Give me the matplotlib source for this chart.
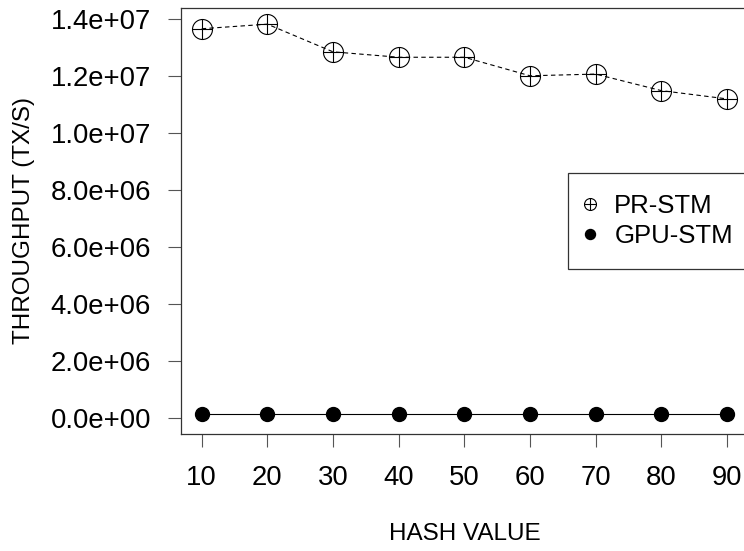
import numpy as np
import matplotlib
matplotlib.use("Agg")
import matplotlib.pyplot as plt
from matplotlib.path import Path
from matplotlib.lines import Line2D

plt.rcParams['font.family'] = ['Liberation Sans', 'DejaVu Sans']

# data
hash_values = [10, 20, 30, 40, 50, 60, 70, 80, 90]
pr_stm = [1.366e7, 1.382e7, 1.285e7, 1.266e7, 1.266e7, 1.201e7, 1.207e7, 1.149e7, 1.120e7]
gpu_stm = [1.4e5, 1.4e5, 1.4e5, 1.4e5, 1.4e5, 1.4e5, 1.4e5, 1.4e5, 1.4e5]
y_ticks = [0, 2e6, 4e6, 6e6, 8e6, 1.0e7, 1.2e7, 1.4e7]
y_tick_labels = ['0.0e+00', '2.0e+06', '4.0e+06', '6.0e+06', '8.0e+06',
                 '1.0e+07', '1.2e+07', '1.4e+07']

# circle with a cross inside (like R's pch=10)
circ = Path.unit_circle()
cross = Path([(-1, 0), (1, 0), (0, -1), (0, 1)],
             [Path.MOVETO, Path.LINETO, Path.MOVETO, Path.LINETO])
oplus = Path.make_compound_path(circ, cross)

fig = plt.figure(figsize=(7.44, 5.51), dpi=100)
ax = fig.add_axes([180.7 / 744, 1 - 434 / 551, 567.3 / 744, 426 / 551])

ax.plot(hash_values, pr_stm, color='black', lw=0.8, ls=(0, (4, 3)),
        marker=oplus, markersize=14.4, markerfacecolor='none',
        markeredgecolor='black', markeredgewidth=0.8)
ax.plot(hash_values, gpu_stm, color='black', lw=0.8,
        marker='o', markersize=10, markerfacecolor='black', markeredgecolor='black')

ax.set_xlim(6.8, 93.2)
ax.set_ylim(-5.5e5, 1.4387e7)
ax.set_xticks(hash_values)
ax.set_yticks(y_ticks)
ax.set_yticklabels(y_tick_labels)

for s in ax.spines.values():
    s.set_color('#333333')
    s.set_linewidth(0.9)
ax.tick_params(axis='both', direction='out', length=9.4, width=0.8,
               color='#555555', labelsize=19.8, labelcolor='black')
ax.tick_params(axis='y', pad=12)
ax.tick_params(axis='x', pad=13)

ax.set_xlabel('HASH VALUE', fontsize=17.5, labelpad=23)
ax.set_ylabel('THROUGHPUT (TX/S)', fontsize=17.5, labelpad=11)

handles = [
    Line2D([], [], ls='none', marker=oplus, markersize=8.6, markerfacecolor='none',
           markeredgecolor='black', markeredgewidth=0.8),
    Line2D([], [], ls='none', marker='o', markersize=7.2, color='black'),
]
leg = fig.legend(handles, ['PR-STM', 'GPU-STM'], loc='upper left',
                 bbox_to_anchor=(568 / 744, 1 - 173 / 551), borderaxespad=0,
                 fontsize=18.5, fancybox=False, edgecolor='#333333', framealpha=1,
                 borderpad=0.8, labelspacing=0.25, handlelength=0.1,
                 handletextpad=0.9)
leg.get_frame().set_linewidth(0.9)

fig.savefig('out.png', dpi=100)
